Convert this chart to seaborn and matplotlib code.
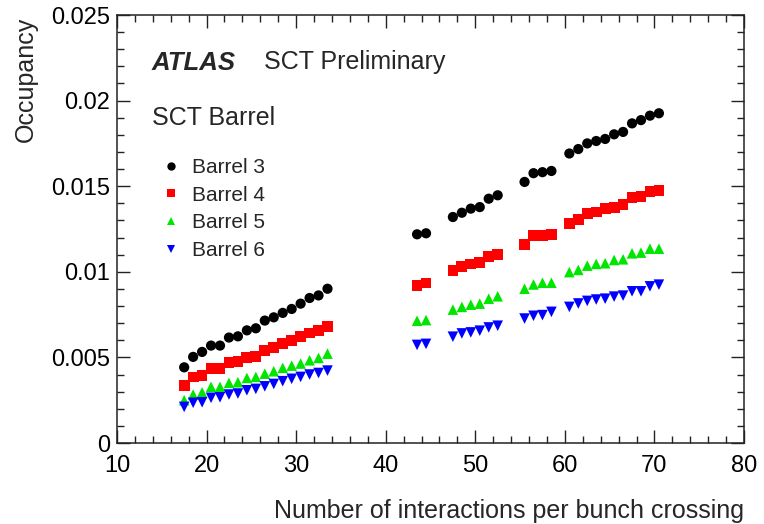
import matplotlib
matplotlib.use("Agg")
import numpy as np
import pandas as pd
import seaborn as sns
import matplotlib.pyplot as plt
from matplotlib.ticker import MultipleLocator, FuncFormatter
from matplotlib.lines import Line2D

# ---------------- data ----------------
mu = [17.5, 18.5, 19.5, 20.5, 21.5, 22.5, 23.5, 24.5, 25.5, 26.5, 27.5, 28.5,
      29.5, 30.5, 31.5, 32.5, 33.5,
      43.5, 44.5,
      47.5, 48.5, 49.5, 50.5, 51.5, 52.5,
      55.5, 56.5, 57.5, 58.5,
      60.5, 61.5, 62.5, 63.5, 64.5, 65.5, 66.5, 67.5, 68.5, 69.5, 70.5]

barrel3 = [0.00442, 0.00503, 0.00532, 0.00569, 0.00569, 0.00616, 0.00623, 0.00658,
           0.00670, 0.00715, 0.00734, 0.00760, 0.00783, 0.00814, 0.00847, 0.00862, 0.00901,
           0.01219, 0.01225,
           0.01320, 0.01345, 0.01369, 0.01378, 0.01427, 0.01447,
           0.01525, 0.01576, 0.01582, 0.01589,
           0.01691, 0.01717, 0.01750, 0.01764, 0.01776, 0.01803, 0.01817, 0.01867,
           0.01886, 0.01912, 0.01926]

barrel4 = [0.00335, 0.00386, 0.00394, 0.00433, 0.00433, 0.00468, 0.00475, 0.00501,
           0.00506, 0.00541, 0.00559, 0.00580, 0.00600, 0.00623, 0.00643, 0.00656, 0.00681,
           0.00921, 0.00934,
           0.01007, 0.01030, 0.01046, 0.01055, 0.01088, 0.01100,
           0.01158, 0.01210, 0.01210, 0.01219,
           0.01284, 0.01306, 0.01339, 0.01349, 0.01368, 0.01377, 0.01391, 0.01432,
           0.01442, 0.01467, 0.01473]

barrel5 = [0.00250, 0.00283, 0.00296, 0.00328, 0.00328, 0.00351, 0.00355, 0.00380,
           0.00386, 0.00405, 0.00419, 0.00439, 0.00452, 0.00464, 0.00483, 0.00497, 0.00522,
           0.00714, 0.00718,
           0.00779, 0.00795, 0.00808, 0.00814, 0.00843, 0.00857,
           0.00901, 0.00926, 0.00936, 0.00936,
           0.00998, 0.01011, 0.01036, 0.01046, 0.01050, 0.01069, 0.01073, 0.01108,
           0.01112, 0.01135, 0.01135]

barrel6 = [0.00211, 0.00235, 0.00238, 0.00264, 0.00267, 0.00283, 0.00289, 0.00308,
           0.00316, 0.00331, 0.00345, 0.00361, 0.00375, 0.00386, 0.00400, 0.00409, 0.00423,
           0.00573, 0.00579,
           0.00621, 0.00640, 0.00646, 0.00656, 0.00675, 0.00685,
           0.00727, 0.00743, 0.00747, 0.00766,
           0.00795, 0.00815, 0.00830, 0.00838, 0.00843, 0.00855, 0.00861, 0.00886,
           0.00886, 0.00915, 0.00925]

series_names = ["Barrel 3", "Barrel 4", "Barrel 5", "Barrel 6"]
series_values = [barrel3, barrel4, barrel5, barrel6]
colors = ["#000000", "#ff0000", "#00e600", "#0000ff"]
marker_shapes = ["o", "s", "^", "v"]
marker_sizes = [54, 60, 58, 58]

# ---------------- style ----------------
sns.set_theme(style="ticks")
plt.rcParams['font.family'] = ['Liberation Sans', 'DejaVu Sans']
plt.rcParams['axes.linewidth'] = 1.1
plt.rcParams['axes.edgecolor'] = '#222222'

df = pd.concat(
    [pd.DataFrame({"mu": mu, "occ": v, "barrel": n}) for n, v in zip(series_names, series_values)],
    ignore_index=True)

W, H = 764, 524
fig = plt.figure(figsize=(W / 100, H / 100), dpi=100)
x0, x1, y0, y1 = 117, 744, 15, 443
ax = fig.add_axes([x0 / W, 1 - y1 / H, (x1 - x0) / W, (y1 - y0) / H])

sns.scatterplot(data=df, x="mu", y="occ", hue="barrel", style="barrel", size="barrel",
                palette=dict(zip(series_names, colors)),
                markers=dict(zip(series_names, marker_shapes)),
                sizes=dict(zip(series_names, marker_sizes)),
                linewidth=0, edgecolor="none", ax=ax, legend=False, zorder=3)

ax.set_xlim(10, 80)
ax.set_ylim(0, 0.025)
ax.xaxis.set_major_locator(MultipleLocator(10))
ax.xaxis.set_minor_locator(MultipleLocator(2))
ax.yaxis.set_major_locator(MultipleLocator(0.005))
ax.yaxis.set_minor_locator(MultipleLocator(0.001))
ax.yaxis.set_major_formatter(FuncFormatter(lambda v, p: f"{round(v, 4):g}"))
ax.tick_params(which="both", direction="in", top=True, right=True, colors="#222222",
               labelcolor="black", labelsize=17)
ax.tick_params(which="major", length=9.5, width=1.0)
ax.tick_params(which="minor", length=5, width=1.0)
ax.tick_params(axis="x", which="major", pad=9)
ax.tick_params(axis="y", which="major", pad=5)

ax.set_xlabel("Number of interactions per bunch crossing", fontsize=18, ha="right")
ax.xaxis.set_label_coords(1.0, -(499 - y1) / (y1 - y0))
ax.set_ylabel("Occupancy", fontsize=18, ha="right")
ax.yaxis.set_label_coords(-(x0 - 38) / (x1 - x0), 1 - 2 / (y1 - y0))

# annotations
fig.text(151.7 / W, 1 - 70 / H, "ATLAS", fontsize=18.5, fontweight="bold", fontstyle="italic",
         va="baseline", ha="left")
fig.text(264 / W, 1 - 69 / H, "SCT Preliminary", fontsize=18, va="baseline", ha="left")
fig.text(151.7 / W, 1 - 125 / H, "SCT Barrel", fontsize=18, va="baseline", ha="left")

handles = [Line2D([], [], linestyle="none", marker=m, color=c, markersize=6, markeredgewidth=0)
           for m, c in zip(marker_shapes, colors)]
leg = ax.legend(handles, series_names, loc="upper left", frameon=False, fontsize=15,
                handlelength=1.0, handletextpad=0.5, labelspacing=0.42, borderpad=0,
                borderaxespad=0, bbox_to_anchor=(160.5 / W, 1 - 158 / H),
                bbox_transform=fig.transFigure)

fig.savefig("out.png", dpi=100, facecolor="white")
